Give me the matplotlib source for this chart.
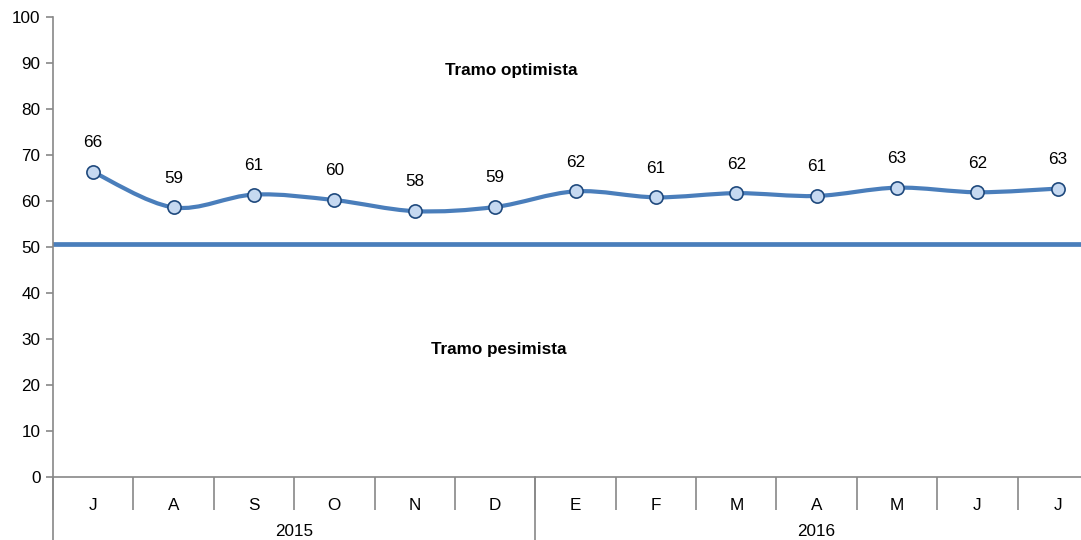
import matplotlib
matplotlib.use("Agg")
import matplotlib.pyplot as plt
from matplotlib.path import Path
from matplotlib.patches import PathPatch
from matplotlib.transforms import blended_transform_factory

plt.rcParams['font.family'] = ['Liberation Sans', 'DejaVu Sans']

months = ["J", "A", "S", "O", "N", "D", "E", "F", "M", "A", "M", "J", "J"]
values = [66.3, 58.6, 61.4, 60.2, 57.8, 58.7, 62.1, 60.8, 61.7, 61.1, 62.9, 61.9, 62.7]
labels = ["66", "59", "61", "60", "58", "59", "62", "61", "62", "61", "63", "62", "63"]
years = ["2015", "2016"]
year_counts = [6, 7]
threshold = 50.6
yticks = list(range(0, 101, 10))

W, H = 1081, 540
fig = plt.figure(figsize=(W / 100, H / 100), dpi=100)
ax = fig.add_axes([53 / W, 63 / H, (1098 - 53) / W, (477 - 17) / H])

line_col = "#4A7EBB"
grey = "#888888"
fs = 12.3

x = list(range(len(values)))

# smooth curve (Catmull-Rom style Bezier)
verts = [(x[0], values[0])]
codes = [Path.MOVETO]
n = len(values)
for i in range(n - 1):
    p0 = (x[max(i - 1, 0)], values[max(i - 1, 0)])
    p1 = (x[i], values[i])
    p2 = (x[i + 1], values[i + 1])
    p3 = (x[min(i + 2, n - 1)], values[min(i + 2, n - 1)])
    c1 = (p1[0] + (p2[0] - p0[0]) / 6, p1[1] + (p2[1] - p0[1]) / 6)
    c2 = (p2[0] - (p3[0] - p1[0]) / 6, p2[1] - (p3[1] - p1[1]) / 6)
    verts += [c1, c2, p2]
    codes += [Path.CURVE4] * 3
ax.add_patch(PathPatch(Path(verts, codes), facecolor="none", edgecolor=line_col,
                       lw=3.0, capstyle="round", joinstyle="round", zorder=3))

ax.plot(x, values, linestyle="none", marker="o", markersize=9.5,
        markerfacecolor="#C6D9F1", markeredgecolor="#1F497D", markeredgewidth=1.2, zorder=4)

for xi, v, lab in zip(x, values, labels):
    ax.annotate(lab, (xi, v), xytext=(0, 21), textcoords="offset points",
                ha="center", va="center", fontsize=fs, color="#000000")

ax.axhline(threshold, color=line_col, lw=3.4, zorder=2)

ax.text(5.2, 88.4, "Tramo optimista", ha="center", va="center", fontsize=fs, fontweight="bold")
ax.text(5.05, 27.7, "Tramo pesimista", ha="center", va="center", fontsize=fs, fontweight="bold")

ax.set_xlim(-0.5, n - 0.5)
ax.set_ylim(0, 100)
ax.set_yticks(yticks)
ax.set_yticklabels([str(t) for t in yticks], fontsize=fs)
ax.tick_params(axis="y", direction="out", length=5, color=grey, width=1.2, pad=4)

ax.set_xticks(x)
ax.set_xticklabels(months, fontsize=fs)
ax.tick_params(axis="x", which="major", length=0, pad=15)
ax.set_xticks([i - 0.5 for i in range(n + 1)], minor=True)
ax.tick_params(axis="x", which="minor", direction="out", length=24, color=grey, width=1.2)

for s in ["top", "right"]:
    ax.spines[s].set_visible(False)
for s in ["left", "bottom"]:
    ax.spines[s].set_color(grey)
    ax.spines[s].set_linewidth(1.2)

trans = blended_transform_factory(ax.transData, fig.transFigure)
start = -0.5
for yr, cnt in zip(years, year_counts):
    end = start + cnt
    ax.text((start + end) / 2, 9 / H, yr, transform=trans, ha="center", va="center", fontsize=fs)
    ax.plot([start, start], [0, 63 / H], transform=trans, color=grey, lw=1.2, clip_on=False)
    start = end

fig.savefig("out.png", dpi=100)
